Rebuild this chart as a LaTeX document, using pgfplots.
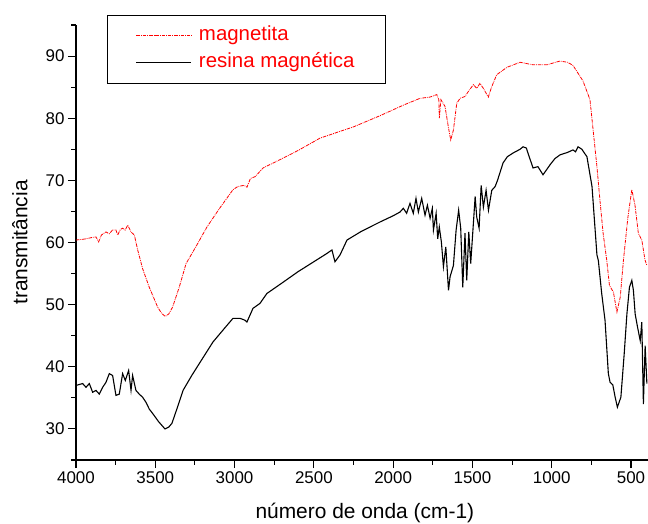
\documentclass[border=0pt]{standalone}
\usepackage{fontspec}
\setmainfont{Liberation Sans}
\usepackage{pgfplots}
\pgfplotsset{compat=1.18}

\begin{document}
\begin{tikzpicture}
\useasboundingbox (-76bp,-64bp) rectangle (572bp,460bp);
\begin{axis}[
    width=572bp, height=435bp, scale only axis,
    at={(0,0)}, anchor=south west,
    x dir=reverse,
    xmin=393, xmax=4000,
    ymin=25, ymax=95,
    axis x line=bottom, axis y line=left,
    axis line style={-, line width=1.1bp},
    xtick={500,1000,...,4000},
    minor xtick={750,1250,...,3750},
    ytick={30,40,...,90},
    minor ytick={25,35,...,95},
    tick align=outside,
    major tick length=8bp, minor tick length=4.5bp,
    every tick/.style={black, line width=1.1bp},
    tick label style={font=\fontsize{17}{20}\selectfont},
    /pgf/number format/assume math mode=true,
    /pgf/number format/set thousands separator={},
    xlabel={número de onda (cm-1)},
    ylabel={transmitância},
    every axis x label/.style={at={(axis description cs:0.505,-0.122)}, anchor=center,
        font=\fontsize{21}{25}\selectfont},
    every axis y label/.style={at={(axis description cs:-0.098,0.5)}, rotate=90, anchor=center,
        font=\fontsize{21}{25}\selectfont},
    legend style={
        at={(0.0542,1.023)}, anchor=north west,
        draw=black, line width=0.8bp, fill=white,
        font=\fontsize{20.5}{24}\selectfont, text=red,
        inner xsep=28.5bp, inner ysep=8bp,
        row sep=2.5bp,
        nodes={inner xsep=2bp, inner ysep=2bp, text height=15.5bp, text depth=5bp},
        /tikz/every odd column/.append style={column sep=5bp},
        legend cell align=left,
    },
    legend image code/.code={
        \draw[#1] (0bp,0bp) -- (55bp,0bp);
    },
]

% magnetita
\addplot[red, line width=0.8bp, dash pattern=on 3.5bp off 1bp on 0.8bp off 1bp] coordinates {
(4000,60.4) (3960,60.5) (3937,60.6) (3900,60.8) (3874,60.9) (3857,60.1)
(3840,61.2) (3811,61.7) (3790,61.4) (3770,62.0) (3748,62.0) (3737,61.2)
(3720,62.1) (3706,62.3) (3690,62.0) (3674,62.8) (3653,61.7) (3632,61.2)
(3611,58.8) (3580,55.8) (3538,52.8) (3485,49.6) (3460,48.6) (3437,48.1)
(3415,48.5) (3391,49.6) (3349,52.8) (3306,56.6) (3240,59.5) (3174,62.5)
(3100,65.3) (3010,68.5) (2980,69.0) (2940,69.2) (2922,68.9) (2900,70.3)
(2870,70.6) (2820,72.0) (2700,73.5) (2600,74.8) (2461,76.8) (2251,78.6)
(2083,80.4) (1936,82.1) (1831,83.2) (1768,83.4) (1725,83.8) (1712,83.0)
(1709,80.0) (1699,83.0) (1673,81.9) (1652,78.6) (1637,76.5) (1620,78.1)
(1599,82.4) (1578,83.2) (1547,83.5) (1526,84.3) (1494,85.4) (1473,84.8)
(1453,85.6) (1431,84.8) (1400,83.4) (1378,85.1) (1347,87.0) (1282,88.2)
(1200,89.0) (1118,88.6) (1030,88.6) (948,89.2) (900,89.0) (866,88.5)
(803,86.0) (759,83.0) (715,72.2) (696,66.8) (676,61.5) (653,57.1)
(636,53.1) (611,52.0) (589,48.8) (568,51.2) (548,57.1) (520,64.0)
(495,68.5) (475,66.0) (454,61.5) (432,60.4) (412,57.2) (400,56.3)
};
\addlegendentry{magnetita}

% resina magnetica
\addplot[black, line width=1.1bp] coordinates {
(4000,37.0) (3958,37.3) (3937,36.7) (3916,37.3) (3895,35.9) (3874,36.2)
(3853,35.6) (3832,36.7) (3811,37.5) (3790,38.9) (3769,38.6) (3748,35.4)
(3727,35.6) (3706,38.9) (3689,37.8) (3668,39.4) (3653,36.2) (3643,38.6)
(3622,36.2) (3601,35.6) (3580,35.1) (3559,34.3) (3538,33.2) (3514,32.4)
(3480,31.2) (3439,30.0) (3415,30.3) (3395,30.9) (3360,33.5) (3325,36.2)
(3270,38.6) (3218,40.7) (3136,44.0) (3060,46.3) (3010,47.8) (2966,47.8)
(2935,47.5) (2922,47.2) (2884,49.4) (2840,50.2) (2796,51.8) (2700,53.5)
(2600,55.3) (2482,57.2) (2420,58.2) (2386,58.8) (2367,56.9) (2335,58.0)
(2291,60.4) (2200,61.8) (2083,63.3) (2000,64.3) (1957,64.9) (1936,65.5)
(1915,64.7) (1894,66.3) (1873,64.7) (1856,67.1) (1841,64.9) (1820,67.1)
(1799,64.4) (1784,66.0) (1767,63.9) (1753,65.5) (1746,62.0) (1729,64.7)
(1719,60.6) (1709,62.5) (1696,60.1) (1683,56.1) (1668,59.3) (1651,52.3)
(1641,54.5) (1620,56.3) (1603,62.0) (1587,65.2) (1574,62.3) (1561,52.8)
(1547,61.5) (1536,53.9) (1523,61.7) (1511,56.6) (1494,63.1) (1483,67.4)
(1473,64.1) (1458,62.3) (1445,69.2) (1431,65.7) (1414,68.4) (1399,65.2)
(1378,68.4) (1357,69.0) (1342,70.0) (1307,72.8) (1280,73.8) (1244,74.4)
(1200,75.0) (1181,75.4) (1160,75.2) (1150,74.4) (1118,72.0) (1087,72.2)
(1055,70.9) (1030,71.8) (1011,72.5) (980,73.5) (948,74.1) (900,74.5)
(866,74.9) (850,74.6) (834,75.4) (810,75.0) (778,73.8) (746,69.0)
(715,58.0) (706,57.1) (685,51.8) (664,47.5) (643,38.9) (632,37.5)
(615,37.1) (600,35.1) (586,33.5) (564,35.1) (543,42.1) (526,48.5)
(510,52.8) (495,53.9) (485,52.3) (474,48.5) (459,46.4) (442,44.2)
(432,47.2) (422,34.0) (411,43.4) (400,37.3)
};
\addlegendentry{resina magnética}

\end{axis}
\end{tikzpicture}
\end{document}
